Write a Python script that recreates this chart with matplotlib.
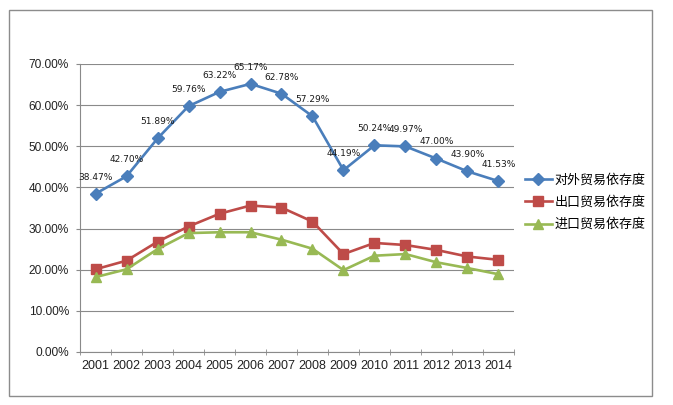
import matplotlib
matplotlib.use("Agg")
import matplotlib.pyplot as plt
from matplotlib.patches import Rectangle
from matplotlib.ticker import FuncFormatter, FixedLocator

plt.rcParams['font.family'] = ['Liberation Sans', 'Noto Sans CJK SC', 'DejaVu Sans']

years = ['2001', '2002', '2003', '2004', '2005', '2006', '2007',
         '2008', '2009', '2010', '2011', '2012', '2013', '2014']
total = [38.47, 42.70, 51.89, 59.76, 63.22, 65.17, 62.78,
         57.29, 44.19, 50.24, 49.97, 47.00, 43.90, 41.53]
export = [20.1, 22.2, 26.8, 30.5, 33.6, 35.6, 35.1,
          31.7, 23.8, 26.5, 26.0, 24.8, 23.2, 22.4]
imports = [18.2, 20.1, 25.0, 28.9, 29.1, 29.1, 27.3,
           25.1, 19.9, 23.4, 23.8, 21.8, 20.4, 18.9]
names = ['对外贸易依存度', '出口贸易依存度', '进口贸易依存度']

fig = plt.figure(figsize=(6.73, 4.05), dpi=100)
ax = fig.add_axes([0.1189, 0.1309, 0.6448, 0.7111])

x = range(len(years))
ax.plot(x, total, color='#4A7EBB', lw=1.9, marker='D', ms=6.5, label=names[0])
ax.plot(x, export, color='#BE4B48', lw=1.9, marker='s', ms=7, label=names[1])
ax.plot(x, imports, color='#98B954', lw=1.9, marker='^', ms=7.5, label=names[2])

for i, v in enumerate(total):
    ax.annotate('%.2f%%' % v, (i, v), xytext=(0, 12), textcoords='offset points',
                ha='center', va='center', fontsize=6.5, color='#1a1a1a',
                family='DejaVu Sans')

ax.set_xlim(-0.5, len(years) - 0.5)
ax.set_ylim(0, 70)
ax.set_yticks(range(0, 71, 10))
ax.yaxis.set_major_formatter(FuncFormatter(lambda v, p: '%.2f%%' % v))
ax.grid(axis='y', color='#8a8a8a', lw=0.8)
ax.set_axisbelow(True)

ax.set_xticks(list(x))
ax.set_xticklabels(years)
ax.xaxis.set_minor_locator(FixedLocator([i - 0.5 for i in range(len(years) + 1)]))
ax.tick_params(axis='x', which='major', length=0, labelsize=9, pad=6, colors='#222222')
ax.tick_params(axis='x', which='minor', length=4, color='#8a8a8a', direction='inout')
ax.tick_params(axis='y', length=3, color='#8a8a8a', labelsize=8.6, pad=5, labelcolor='#222222')

for s in ['top', 'right']:
    ax.spines[s].set_visible(False)
for s in ['left', 'bottom']:
    ax.spines[s].set_color('#8a8a8a')
    ax.spines[s].set_linewidth(0.8)

fig.legend(loc='center left', bbox_to_anchor=(0.770, 0.5), frameon=False,
           prop={'family': 'Noto Sans CJK SC', 'size': 9.4},
           handlelength=2.1, handletextpad=0.2, labelspacing=0.7, borderpad=0)

fig.patches.append(Rectangle((9 / 673, 9 / 405), 643 / 673, 386 / 405,
                             transform=fig.transFigure, fill=False,
                             edgecolor='#8c8c8c', lw=1))

fig.savefig('out.png', dpi=100)
